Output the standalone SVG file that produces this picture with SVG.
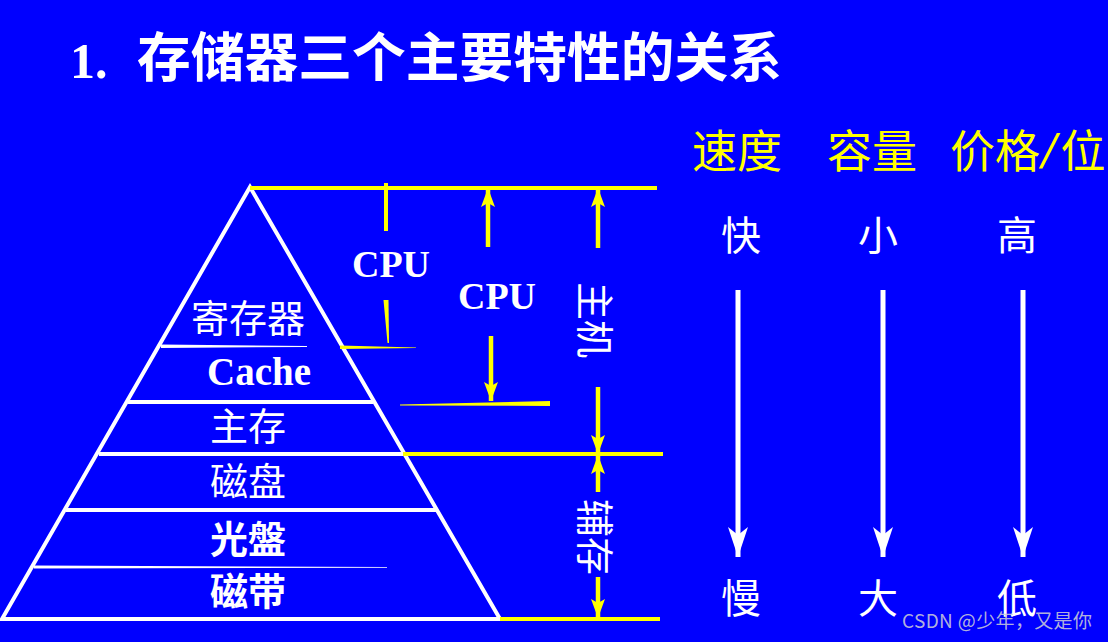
<svg xmlns="http://www.w3.org/2000/svg" width="1108" height="642" viewBox="0 0 1108 642">
<defs>
<style>
.cjk{font-family:"Noto Sans CJK SC","Noto Sans",sans-serif;}
.lat{font-family:"Liberation Serif","Times New Roman",serif;font-weight:bold;}
.w{fill:#ffffff;}
.y{fill:#ffff00;}
.wl{stroke:#ffffff;stroke-width:4;fill:none;}
.yl{stroke:#ffff00;stroke-width:4;fill:none;}
.ya{stroke:#ffff00;stroke-width:4.5;fill:none;marker-end:url(#yarrow);}
.wa{stroke:#ffffff;stroke-width:5;fill:none;marker-end:url(#warrow);}
</style>
<marker id="yarrow" markerUnits="userSpaceOnUse" viewBox="0 0 19 14" refX="19" refY="7" markerWidth="19" markerHeight="14" orient="auto">
<path d="M0,0 L19,7 L0,14 L4,7 Z" fill="#ffff00"/>
</marker>
<marker id="warrow" markerUnits="userSpaceOnUse" viewBox="0 0 30 20" refX="30" refY="10" markerWidth="30" markerHeight="20" orient="auto">
<path d="M0,0 L30,10 L0,20 L8,10 Z" fill="#ffffff"/>
</marker>
</defs>
<rect x="0" y="0" width="1108" height="642" fill="#0000ff"/>

<g id="title">
<text x="70" y="78" class="lat w" font-size="50">1.</text>
<text x="137" y="77" class="cjk w" font-size="53" font-weight="bold" textLength="645" lengthAdjust="spacingAndGlyphs">存储器三个主要特性的关系</text>
</g>

<g id="pyramid">
<polygon points="250,187 2,619 500,619" class="wl"/>
<polygon points="161,344.5 307,346 307,347 161,348" fill="#ffffff"/>
<line x1="128" y1="402" x2="373" y2="402" class="wl"/>
<line x1="99" y1="454" x2="403" y2="454" class="wl"/>
<line x1="66" y1="510" x2="436" y2="510" class="wl"/>
<polygon points="34,565.5 387,567 387,567.8 34,568.5" fill="#ffffff"/>
</g>

<g id="levels">
<text x="248" y="332" class="cjk w" font-size="38" text-anchor="middle">寄存器</text>
<text x="259" y="385" class="lat w" font-size="39" text-anchor="middle">Cache</text>
<text x="248" y="440" class="cjk w" font-size="38" text-anchor="middle">主存</text>
<text x="248" y="495" class="cjk w" font-size="38" text-anchor="middle">磁盘</text>
<text x="248" y="553" class="cjk w" font-size="38" text-anchor="middle" font-weight="bold">光盤</text>
<text x="248" y="605" class="cjk w" font-size="38" text-anchor="middle" font-weight="bold">磁带</text>
</g>

<g id="connectors">
<line x1="250" y1="188" x2="657" y2="188" class="yl"/>
<line x1="403" y1="454" x2="663" y2="454" class="yl"/>
<line x1="500" y1="619" x2="660" y2="619" class="yl"/>
<polygon points="340,345.5 416,347.5 416,348 340,349" fill="#ffff00"/>
<polygon points="400,404.5 550,401 550,406 400,405.5" fill="#ffff00"/>
<line x1="386" y1="183" x2="386" y2="231" class="yl"/>
<polygon points="383.5,300 388.5,300 389,343 387.5,343" fill="#ffff00"/>
<line x1="488" y1="247" x2="488" y2="188" class="ya"/>
<line x1="491" y1="336" x2="491" y2="401" class="ya"/>
<line x1="598" y1="248" x2="598" y2="188" class="ya"/>
<line x1="598" y1="387" x2="598" y2="454" class="ya"/>
<line x1="598" y1="492" x2="598" y2="455" class="ya"/>
<line x1="598" y1="577" x2="598" y2="618" class="ya"/>
<line x1="738" y1="290" x2="738" y2="557" class="wa"/>
<line x1="883" y1="290" x2="883" y2="557" class="wa"/>
<line x1="1023" y1="290" x2="1023" y2="557" class="wa"/>
</g>

<g id="cpu1"><text x="391" y="277" class="lat w" font-size="38" text-anchor="middle">CPU</text></g>
<g id="cpu2"><text x="497" y="309" class="lat w" font-size="38" text-anchor="middle">CPU</text></g>
<g id="host"><text transform="translate(597,320) rotate(90)" class="cjk w" font-size="38" text-anchor="middle" dominant-baseline="central">主机</text></g>
<g id="aux"><text transform="translate(597,537) rotate(90)" class="cjk w" font-size="38" text-anchor="middle" dominant-baseline="central">辅存</text></g>

<g id="headers">
<text x="737" y="168" class="cjk y" font-size="45" text-anchor="middle">速度</text>
<text x="872" y="168" class="cjk y" font-size="45" text-anchor="middle">容量</text>
<text x="950" y="168" class="cjk y" font-size="45">价格<tspan class="lat" font-style="italic" font-weight="bold" font-size="52" dx="2">/</tspan><tspan dx="4">位</tspan></text>
</g>

<g id="values">
<text x="741" y="250" class="cjk w" font-size="40" text-anchor="middle">快</text>
<text x="878" y="250" class="cjk w" font-size="40" text-anchor="middle">小</text>
<text x="1017" y="250" class="cjk w" font-size="40" text-anchor="middle">高</text>
<text x="741" y="613" class="cjk w" font-size="40" text-anchor="middle">慢</text>
<text x="878" y="613" class="cjk w" font-size="40" text-anchor="middle">大</text>
<text x="1017" y="613" class="cjk w" font-size="40" text-anchor="middle">低</text>
</g>

<g id="watermark">
<text x="902" y="628" class="cjk" font-size="19" fill="#c8c8d8" fill-opacity="0.9" textLength="190">CSDN @少年，又是你</text>
</g>
</svg>
